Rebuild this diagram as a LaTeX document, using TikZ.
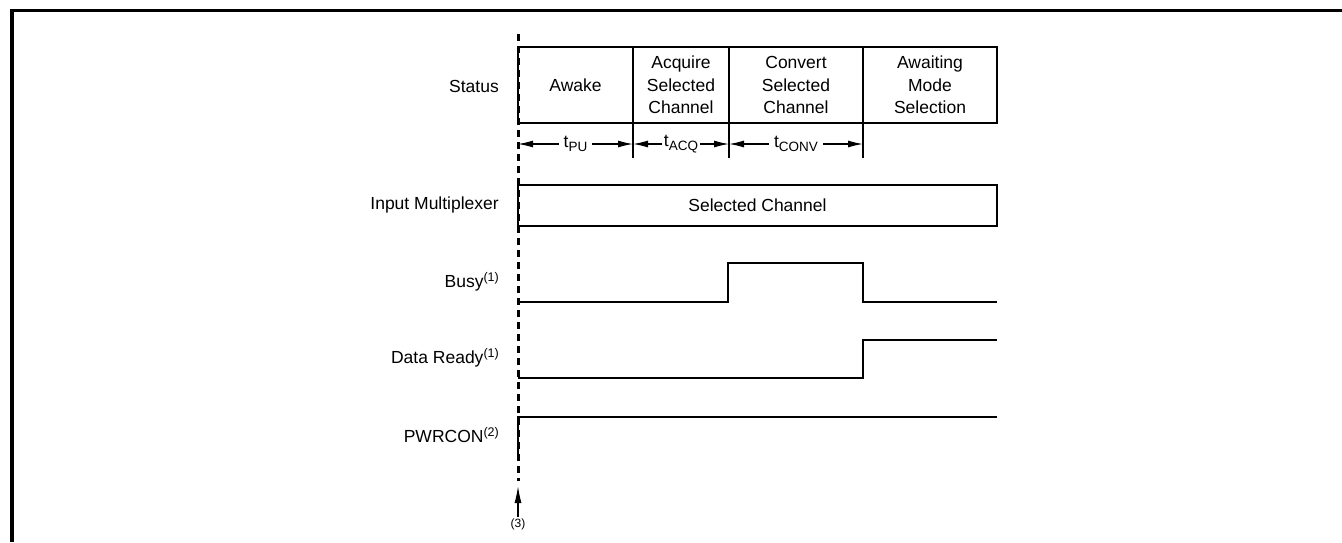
\documentclass[tikz,border=0pt]{standalone}
\usepackage{fontspec}
\setmainfont{Liberation Sans}
\usetikzlibrary{positioning,arrows.meta}
\newcommand{\sigfont}{\fontsize{17.5}{22.5}\selectfont}
\newcommand{\notefont}{\fontsize{12}{14}\selectfont}
\newcommand{\lowtxt}[1]{\raisebox{-3.5pt}{\fontsize{13.5}{14}\selectfont #1}}
\newcommand{\hightxt}[1]{\raisebox{6.5pt}{\fontsize{12.5}{14}\selectfont #1}}
\tikzset{
	cell/.style={draw, line width=2.8pt, inner sep=0pt, outer sep=0pt, minimum height=76pt, align=center, font=\sigfont},
	sig/.style={line width=2.8pt, line join=miter},
	tickline/.style={line width=1.2pt},
	dimline/.style={line width=1.2pt, {Latex[length=15pt,width=7pt]}-{Latex[length=15pt,width=7pt]}},
	dimlbl/.style={fill=white, inner xsep=5pt, inner ysep=1pt, font=\sigfont},
	lbl/.style={anchor=east, inner sep=0pt, font=\sigfont},
}
\begin{document}
\begin{tikzpicture}[x=1pt, y=-1pt]
		\useasboundingbox (0,0) rectangle (1342,542);
		% frame
		\draw [line width=3.2pt] (12,542) -- (12,10.7) -- (1342,10.7);
		
		% start line
		\coordinate (S0) at (518, 34);
		\coordinate (S1) at (518, 481);
		\draw [line width=3pt, dash pattern=on 7pt off 5pt] (S0) -- (S1);
		
		\begin{scope}
			% status
			\node [cell, minimum width=115pt, anchor=north west] (awake) at (518, 47) {Awake};
			\node [cell, minimum width=96pt, right=0pt of awake] (acquire) {Acquire\\Selected\\Channel};
			\node [cell, minimum width=134pt, right=0pt of acquire] (convert) {Convert\\Selected\\Channel};
			\node [cell, minimum width=134pt, right=0pt of convert] (awaiting) {Awaiting\\Mode\\Selection};
			\node [lbl] (status) at (499, 86) {Status};
			
			\coordinate (M0) at (518, 144);
			\coordinate (M1) at (633, 144);
			\coordinate (M2) at (729, 144);
			\coordinate (M3) at (863, 144);
			\draw [tickline] (acquire.south west) -- (633, 158);
			\draw [tickline] (convert.south west) -- (729, 158);
			\draw [tickline] (awaiting.south west) -- (863, 158);
			\draw [dimline] (M0) -- node[dimlbl] {t\lowtxt{PU}} (M1);
			\draw [dimline] (M1) -- node[dimlbl, inner xsep=2pt] {t\lowtxt{ACQ}} (M2);
			\draw [dimline] (M2) -- node[dimlbl] {t\lowtxt{CONV}} (M3);
		\end{scope}
		
		\begin{scope}
			% input multiplexer
			\node [cell, minimum width=479pt, minimum height=41pt, anchor=north west] (mux) at (518, 185) {Selected Channel};
			\node [lbl] (muxlbl) at (499, 205) {Input Multiplexer};
		\end{scope}
		
		\begin{scope}
			% busy
			\coordinate (B1) at (518, 302);
			\coordinate (B2) at (997, 302);
			\draw [sig] (B1) -- (728, 302) -- (728, 263) -- (863, 263) -- (863, 302) -- (B2);
			\node [lbl] (busy) at (499, 282) {Busy\hightxt{(1)}};
			
			% data ready
			\coordinate (D1) at (518, 378);
			\coordinate (D2) at (997, 340);
			\draw [sig] (D1) -- (863, 378) -- (863, 340) -- (D2);
			\node [lbl] (ready) at (499, 358) {Data Ready\hightxt{(1)}};
			
			% pwrcon
			\coordinate (P1) at (518, 456);
			\coordinate (P2) at (997, 417);
			\draw [sig] (P1) -- (518, 417) -- (P2);
			\node [lbl] (pwrcon) at (499, 435) {PWRCON\hightxt{(2)}};
		\end{scope}
		
		% note 3
		\coordinate (tip) at (518, 486);
		\node [inner sep=1pt, font=\notefont] (note) at (518, 524) {(3)};
		\draw [line width=1.2pt, -{Latex[length=17pt,width=7pt]}] (note.north) -- (tip);
	\end{tikzpicture}
\end{document}
